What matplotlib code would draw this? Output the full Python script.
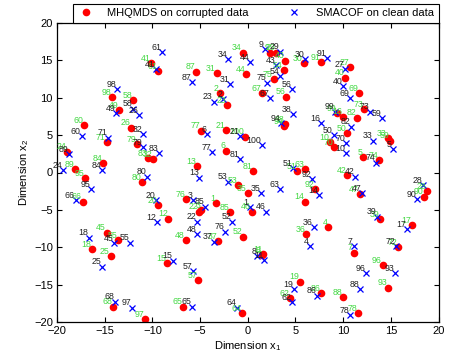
import matplotlib
matplotlib.use("Agg")
import matplotlib.pyplot as plt
from matplotlib.lines import Line2D

plt.rcParams['font.family'] = ['Liberation Sans', 'DejaVu Sans']
plt.rcParams['mathtext.default'] = 'regular'

ids = list(range(1, 101))

# MHQMDS on corrupted data (red circles)
red_x = [-3.31, -2.96, -4.90, 8.42, 12.09, -2.26, 11.11, 1.45, 2.36, 8.60,
         1.60, -8.31, -5.27, 6.04, -8.48, 9.99, 17.17, -16.29, 5.44, -9.37,
         -2.26, -5.06, -2.19, -18.98, -14.38, -12.26, 10.69, 18.81, 2.99, 5.86,
         -3.24, -9.89, 14.68, -0.54, -0.02, 6.14, -3.13, 3.95, 13.91, 10.24,
         -10.13, 10.41, 3.94, -0.16, -14.78, 0.44, 11.74, -6.49, -13.49, 10.41,
         5.16, -0.50, -0.97, 3.76, -13.56, 4.04, -5.23, -11.99, 14.89, -17.13,
         -9.36, 4.46, 6.04, -0.61, -6.80, -17.30, 1.49, -14.09, 11.71, 9.08,
         -14.78, 15.73, 12.17, 13.81, 2.71, -6.46, -4.88, 11.57, -11.63, -11.11,
         0.54, 11.46, -10.41, -15.14, -1.84, 7.68, -5.41, 9.96, -18.11, 18.53,
         7.68, 7.09, 14.68, 3.80, -17.06, 14.16, -10.76, -14.26, 9.37, -0.26]
red_y = [-4.11, 10.65, -5.00, -7.24, 2.04, 2.91, -10.70, -11.05, 16.00, 4.10,
         -10.92, -6.15, 0.87, -3.90, -12.12, 7.45, -7.00, -10.25, -14.58, -4.34,
         5.67, -5.23, 9.01, 2.78, -11.15, 5.98, 14.04, -2.47, 16.00, 14.58,
         13.24, 1.76, 4.57, 16.00, -2.70, -8.21, -9.15, 6.50, -6.20, 12.66,
         14.58, -0.33, 14.93, 13.11, -8.04, -5.23, -2.91, -9.01, 8.34, 5.23,
         0.20, -8.57, -1.67, 13.68, -9.01, 10.12, -14.35, 9.68, 4.25, 6.34,
         13.55, -16.72, 0.47, -18.80, -17.92, -3.90, 10.65, -17.92, 10.65, 3.36,
         4.03, -9.99, 8.44, 1.67, 12.44, -3.58, 5.58, -18.80, 3.76, -1.31,
         0.20, 7.32, 1.90, 1.23, -5.31, -16.13, 13.46, -16.66, 0.47, -3.23,
         14.71, -2.24, -15.38, 6.20, -0.77, -12.35, -19.60, 10.04, 7.90, 4.78]

# SMACOF on clean data (blue crosses)
blue_x = [0.19, -2.61, -5.69, 6.49, 15.20, -4.28, 11.11, 1.00, 1.77, 10.30,
          1.73, -9.53, -5.06, 7.51, -7.79, 7.68, 16.72, -16.64, 4.88, -9.61,
          -0.79, -5.27, -3.59, -19.34, -15.24, -11.39, 10.24, 18.39, 3.41, 6.04,
          -1.84, -10.94, 13.15, -2.02, 1.42, 6.91, -3.59, 4.70, 13.56, 9.99,
          -9.64, 11.29, 2.99, 0.26, -14.02, 1.94, 11.99, -5.33, -13.80, 9.00,
          4.74, -1.66, -2.02, 3.41, -12.34, 4.64, -5.69, -12.05, 14.09, -17.41,
          -9.00, 4.64, 3.41, -1.13, -5.80, -18.04, 2.36, -13.91, 10.76, 10.30,
          -14.61, 15.59, 12.86, 13.49, 2.01, -2.36, -3.76, 10.69, -11.00, -10.52,
          -0.79, 10.87, -9.26, -15.31, -4.46, 7.26, -5.80, 11.74, -18.70, 17.76,
          8.31, 6.74, 15.41, 3.52, -16.46, 12.44, -12.16, -13.73, 9.19, 1.49]
blue_y = [-4.65, 9.77, -3.67, -9.81, 3.14, 5.14, -9.81, -11.15, 16.45, 2.56,
          -11.68, -6.65, -0.69, -3.00, -11.77, 6.57, -7.55, -8.70, -15.55, -3.67,
          4.87, -6.57, 9.45, 0.33, -12.57, 7.68, 13.78, -1.67, 16.13, 15.11,
          11.82, 5.10, 4.25, 15.11, -2.70, -7.24, -9.24, 7.81, -5.90, 11.55,
          13.80, -0.56, 14.35, 14.79, -9.45, -5.23, -2.70, -8.25, 7.90, 5.00,
          0.56, -6.57, -1.23, 12.88, -9.37, 11.15, -13.15, 8.52, 7.24, 4.87,
          16.05, -17.33, -2.24, -18.05, -17.92, -3.67, 9.90, -17.25, 9.90, 3.90,
          4.65, -9.81, 8.12, 1.31, 11.99, -7.90, 2.69, -19.02, 3.44, -0.56,
          1.76, 6.12, 2.56, 0.33, -4.56, -16.45, 12.04, -15.55, 2.47, -3.58,
          15.24, -0.90, -13.46, 6.57, -2.20, -13.46, -18.05, 11.11, 8.12, 3.67]

legend_labels = ['MHQMDS on corrupted data', 'SMACOF on clean data']
x_label = 'Dimension x$_1$'
y_label = 'Dimension x$_2$'
ticks = [-20, -15, -10, -5, 0, 5, 10, 15, 20]

W, H = 453, 362
fig = plt.figure(figsize=(W / 100, H / 100), dpi=100)
ax = fig.add_axes([57 / W, 1 - 322.3 / H, (438.5 - 57) / W, (322.3 - 22.7) / H])

green = '#44d844'
ax.plot(red_x, red_y, 'o', color='red', markersize=5.5, markeredgewidth=0, zorder=2)
ax.plot(blue_x, blue_y, 'x', color='blue', markersize=4.5, markeredgewidth=0.9, zorder=3)

for i, x, y in zip(ids, red_x, red_y):
    ax.annotate(str(i), (x, y), xytext=(-0.6, 1.6), textcoords='offset points',
                ha='right', va='baseline', fontsize=6.3, color=green, zorder=4)
for i, x, y in zip(ids, blue_x, blue_y):
    ax.annotate(str(i), (x, y), xytext=(-0.6, 1.6), textcoords='offset points',
                ha='right', va='baseline', fontsize=6.3, color='#222222', zorder=5)

ax.set_xlim(-20, 20)
ax.set_ylim(-20, 20)
ax.set_xticks(ticks)
ax.set_yticks(ticks)
ax.set_xticklabels([f'\u2212{abs(t)}' if t < 0 else str(t) for t in ticks])
ax.set_yticklabels([f'\u2212{abs(t)}' if t < 0 else str(t) for t in ticks])
ax.tick_params(direction='in', top=True, right=True, length=3.5, width=0.8,
               labelsize=8, pad=3)
for s in ax.spines.values():
    s.set_linewidth(0.9)
ax.set_xlabel(x_label, fontsize=8, labelpad=2)
ax.set_ylabel(y_label, fontsize=8, labelpad=2)

handles = [Line2D([], [], marker='o', color='red', linestyle='none', markersize=5.5, markeredgewidth=0),
           Line2D([], [], marker='x', color='blue', linestyle='none', markersize=4.5, markeredgewidth=0.9)]
leg = ax.legend(handles, legend_labels, loc='lower left', ncol=2, mode='expand',
                bbox_to_anchor=((73 - 57) / 381.5, 1.0, 1 - (73 - 57) / 381.5, 0.07),
                borderaxespad=0, fancybox=False, edgecolor='black', fontsize=8,
                handlelength=1.5, handletextpad=1.2, borderpad=0.4, framealpha=1)
leg.get_frame().set_linewidth(0.8)

fig.savefig('out.png', dpi=100)
